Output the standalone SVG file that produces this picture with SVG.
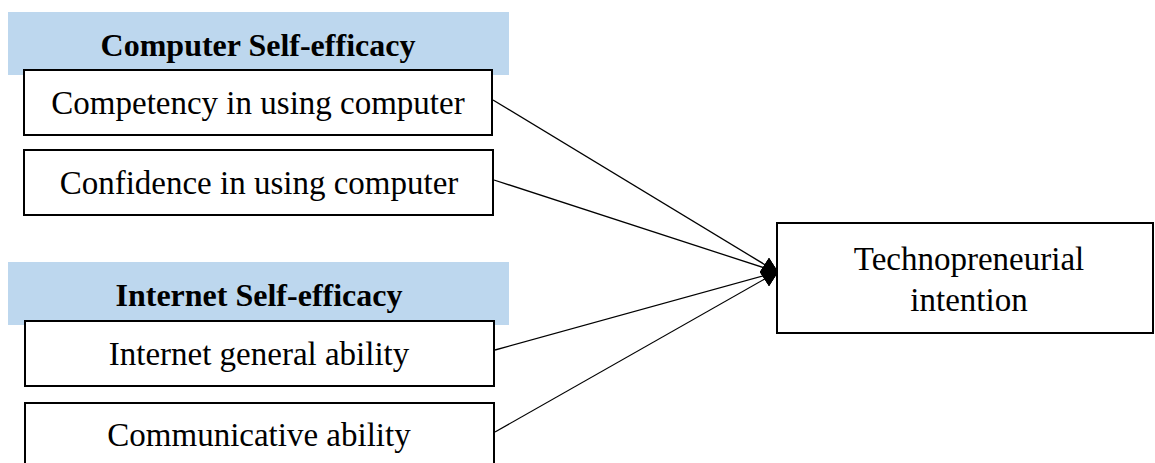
<svg xmlns="http://www.w3.org/2000/svg" width="1155" height="463" viewBox="0 0 1155 463">
<style>
.band{fill:#bdd7ee}
.box{fill:#fff;stroke:#000;stroke-width:2}
.t{font-family:"Liberation Serif","Times New Roman",serif;font-size:33px;fill:#000;text-anchor:middle}
.h{font-family:"Liberation Serif","Times New Roman",serif;font-size:32px;font-weight:bold;fill:#000;text-anchor:middle}
.c{stroke:#000;stroke-width:1.3;fill:none}
</style>
<defs>
<marker id="dia" markerUnits="userSpaceOnUse" markerWidth="20" markerHeight="30" refX="18" refY="15" orient="0" viewBox="0 0 20 30">
<path d="M1 15 L10 1 L19 15 L10 29 Z" fill="#000"/>
</marker>
</defs>
<rect width="1155" height="463" fill="#fff"/>
<g id="group-computer">
<rect class="band" x="8" y="12" width="501" height="63"/>
<text class="h" x="258" y="56">Computer Self-efficacy</text>
</g>
<g id="group-internet">
<rect class="band" x="8" y="262" width="501" height="63"/>
<text class="h" x="259" y="306">Internet Self-efficacy</text>
</g>
<g id="node-competency">
<rect class="box" x="24" y="70" width="468" height="65"/>
<text class="t" x="258" y="114">Competency in using computer</text>
</g>
<g id="node-confidence">
<rect class="box" x="24" y="150" width="469" height="65"/>
<text class="t" x="259" y="194">Confidence in using computer</text>
</g>
<g id="node-general">
<rect class="box" x="25" y="321" width="469" height="65"/>
<text class="t" x="259" y="365">Internet general ability</text>
</g>
<g id="node-communicative">
<rect class="box" x="25" y="403" width="469" height="70"/>
<text class="t" x="259" y="446">Communicative ability</text>
</g>
<g id="node-intention">
<rect class="box" x="777" y="223" width="376" height="110"/>
<text class="t" x="969" y="270">Technopreneurial</text>
<text class="t" x="969" y="311">intention</text>
</g>
<g id="connectors">
<line class="c" x1="493" y1="100" x2="777" y2="272" marker-end="url(#dia)"/>
<line class="c" x1="494" y1="180" x2="777" y2="272" marker-end="url(#dia)"/>
<line class="c" x1="495" y1="350" x2="777" y2="272" marker-end="url(#dia)"/>
<line class="c" x1="495" y1="432" x2="777" y2="272" marker-end="url(#dia)"/>
</g>
</svg>
